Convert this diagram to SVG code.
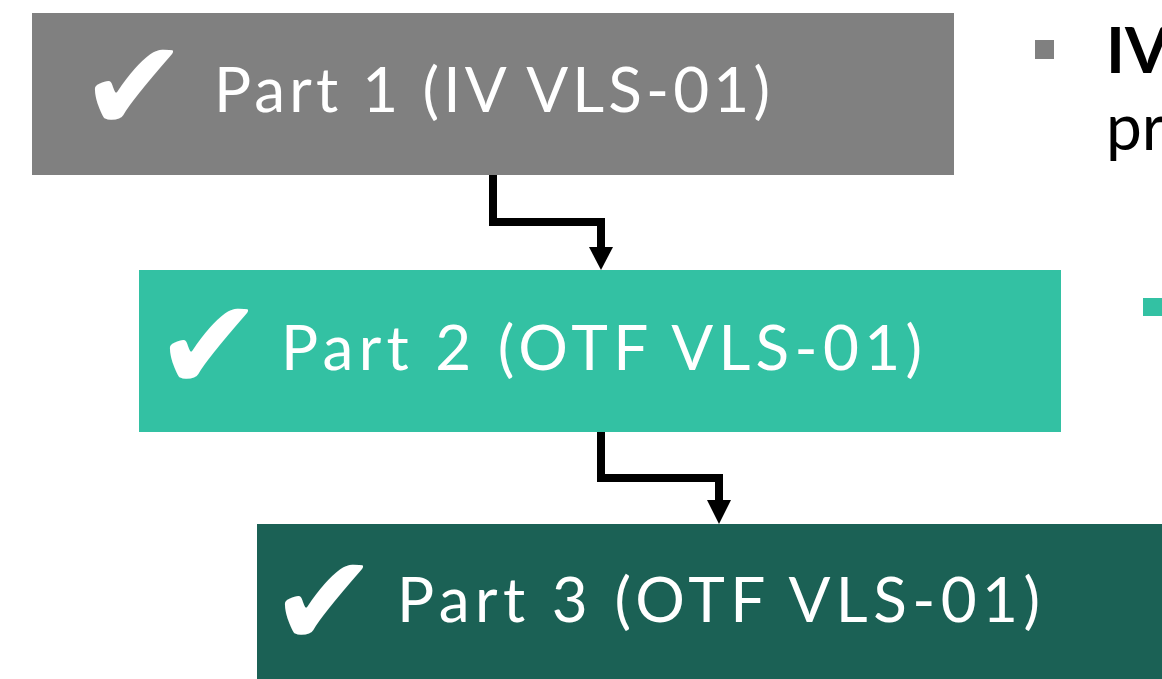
<svg xmlns="http://www.w3.org/2000/svg" width="1162" height="679" viewBox="0 0 1162 679">
<style>
.lbl{font-family:Lato,"Open Sans","Liberation Sans",sans-serif;font-size:62px;fill:#fff;}
.chk{font-family:"DejaVu Sans",sans-serif;font-size:129px;fill:#fff;}
.conn{fill:none;stroke:#000;stroke-width:8;stroke-linejoin:miter;}
.head{fill:#000;}
.side{font-family:Lato,"Open Sans","Liberation Sans",sans-serif;font-size:64px;fill:#000;}
</style>
<rect width="1162" height="679" fill="#fff"/>
<g id="connectors">
<path class="conn" d="M493,175 V222 H601 V249"/>
<polygon class="head" points="589,247 613,247 601,270"/>
<path class="conn" d="M601,432 V478 H719 V502"/>
<polygon class="head" points="707,500 731,500 719,524"/>
</g>
<g id="part1">
<rect x="32" y="13" width="922" height="162" fill="#808080"/>
<text class="chk" x="80" y="131">✔</text>
<text class="lbl" x="214" y="112" textLength="556" lengthAdjust="spacing">Part 1 (IV VLS-01)</text>
</g>
<g id="part2">
<rect x="139" y="270" width="922" height="162" fill="#33C1A3"/>
<text class="chk" x="155" y="390">✔</text>
<text class="lbl" x="281" y="370" textLength="641" lengthAdjust="spacing">Part 2 (OTF VLS-01)</text>
</g>
<g id="part3">
<rect x="257" y="524" width="920" height="160" fill="#1B6155"/>
<text class="chk" x="270" y="646">✔</text>
<text class="lbl" x="397" y="622" textLength="643" lengthAdjust="spacing">Part 3 (OTF VLS-01)</text>
</g>
<g id="side-notes">
<rect x="1035" y="40" width="19" height="19" fill="#808080"/>
<text class="side" x="1106" y="73" font-weight="700">IV</text>
<text class="side" x="1106" y="150">pr</text>
<rect x="1143" y="298" width="19" height="18" fill="#33C1A3"/>
</g>
</svg>
